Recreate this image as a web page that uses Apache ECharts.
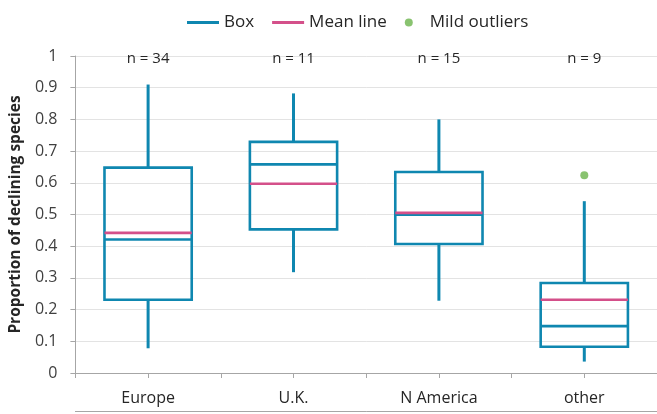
<!DOCTYPE html>
<html>
<head>
<meta charset="utf-8">
<script src="https://cdn.jsdelivr.net/npm/echarts@6/dist/echarts.min.js"></script>
<style>
  html, body { margin: 0; padding: 0; background: #ffffff; }
  #chart { width: 657px; height: 414px; }
</style>
</head>
<body>
<div id="chart"></div>
<script>
// ---- data ----
const categories = ['Europe', 'U.K.', 'N America', 'other'];
const whiskerMin = [0.078, 0.318, 0.228, 0.036];
const quartile1  = [0.231, 0.453, 0.407, 0.083];
const medians    = [0.421, 0.658, 0.499, 0.148];
const quartile3  = [0.648, 0.729, 0.634, 0.284];
const whiskerMax = [0.910, 0.882, 0.800, 0.542];
const means      = [0.442, 0.597, 0.505, 0.231];
const outlierCategories = ['other'];
const outlierValues     = [0.624];
const nCounts = [34, 11, 15, 9];
const yTickLabels = ['0', '0.1', '0.2', '0.3', '0.4', '0.5', '0.6', '0.7', '0.8', '0.9', '1'];

const BLUE = '#0f87b0';
const PINK = '#d4508a';
const GREEN = '#6cb44c';
const FONT = 'Open Sans';

const boxData = categories.map((c, i) => [i, whiskerMin[i], quartile1[i], medians[i], quartile3[i], whiskerMax[i]]);
const meanData = categories.map((c, i) => [i, means[i]]);
const outlierData = outlierCategories.map((c, i) => [categories.indexOf(c), outlierValues[i]]);
const nData = categories.map((c, i) => [i, 1]);

function renderBox(params, api) {
  const x = api.value(0);
  const pMin = api.coord([x, api.value(1)]);
  const pQ1 = api.coord([x, api.value(2)]);
  const pMed = api.coord([x, api.value(3)]);
  const pQ3 = api.coord([x, api.value(4)]);
  const pMax = api.coord([x, api.value(5)]);
  const half = api.size([1, 0])[0] * 0.3;
  const cx = pMed[0];
  const whisker = { stroke: BLUE, lineWidth: 3 };
  const edge = { stroke: BLUE, lineWidth: 2.6, fill: 'rgba(0,0,0,0)' };
  return {
    type: 'group',
    children: [
      { type: 'line', shape: { x1: cx, y1: pMax[1], x2: cx, y2: pQ3[1] }, style: whisker },
      { type: 'line', shape: { x1: cx, y1: pQ1[1], x2: cx, y2: pMin[1] }, style: whisker },
      { type: 'rect', shape: { x: cx - half, y: pQ3[1], width: half * 2, height: pQ1[1] - pQ3[1] }, style: edge },
      { type: 'line', shape: { x1: cx - half, y1: pMed[1], x2: cx + half, y2: pMed[1] }, style: { stroke: BLUE, lineWidth: 2.6 } }
    ]
  };
}

function renderMean(params, api) {
  const x = api.value(0);
  const p = api.coord([x, api.value(1)]);
  const half = api.size([1, 0])[0] * 0.3;
  return {
    type: 'line',
    shape: { x1: p[0] - half, y1: p[1], x2: p[0] + half, y2: p[1] },
    style: { stroke: PINK, lineWidth: 2.6 }
  };
}

function renderN(params, api) {
  const p = api.coord([api.value(0), api.value(1)]);
  return {
    type: 'text',
    x: p[0], y: p[1] + 3,
    style: {
      text: 'n = ' + nCounts[params.dataIndex],
      fontFamily: FONT, fontSize: 15, fill: '#262626',
      align: 'center', verticalAlign: 'middle'
    }
  };
}

const chart = echarts.init(document.getElementById('chart'), null, { renderer: 'canvas' });
chart.setOption({
  animation: false,
  backgroundColor: '#ffffff',
  textStyle: { fontFamily: FONT },
  legend: {
    left: 182,
    top: 9,
    itemWidth: 32,
    itemHeight: 8,
    itemGap: 18,
    textStyle: { fontFamily: FONT, fontSize: 17, color: '#262626' },
    data: [
      { name: 'Box', icon: 'path://M0 0H32V3H0Z', itemStyle: { color: BLUE } },
      { name: 'Mean line', icon: 'path://M0 0H32V3H0Z', itemStyle: { color: PINK } },
      { name: 'Mild outliers', icon: 'circle', itemStyle: { color: GREEN } }
    ]
  },
  grid: { left: 75, right: -5, top: 56, bottom: 41, containLabel: false },
  xAxis: [
    {
      type: 'category', data: categories, position: 'bottom',
      boundaryGap: true,
      axisLine: { show: true, lineStyle: { color: '#a6a6a6', width: 1 } },
      axisTick: { show: true, length: 5, lineStyle: { color: '#a6a6a6' } },
      axisLabel: { fontFamily: FONT, fontSize: 16, color: '#262626', margin: 17 },
      splitLine: { show: false }
    },
    {
      type: 'category', data: categories, position: 'bottom',
      boundaryGap: true,
      axisLine: { show: false },
      axisTick: { show: true, alignWithLabel: true, length: 5, lineStyle: { color: '#a6a6a6' } },
      axisLabel: { show: false },
      splitLine: { show: false }
    },
    {
      type: 'category', data: categories, position: 'bottom', offset: 38,
      axisLine: { show: true, lineStyle: { color: '#a6a6a6', width: 1 } },
      axisTick: { show: false },
      axisLabel: { show: false },
      splitLine: { show: false }
    }
  ],
  yAxis: {
    type: 'value', min: 0, max: 1, interval: 0.1,
    name: 'Proportion of declining species',
    nameLocation: 'middle',
    nameGap: 51,
    nameTextStyle: { fontFamily: FONT, fontSize: 15.5, fontWeight: 'bold', color: '#262626' },
    axisLine: { show: true, lineStyle: { color: '#a6a6a6', width: 1 } },
    axisTick: { show: true, length: 5, lineStyle: { color: '#a6a6a6' } },
    axisLabel: {
      fontFamily: FONT, fontSize: 16, color: '#404040', margin: 18,
      formatter: v => yTickLabels[Math.round(v * 10)]
    },
    splitLine: { show: true, lineStyle: { color: '#e3e3e3', width: 1 } }
  },
  series: [
    {
      name: 'Box', type: 'custom', xAxisIndex: 0,
      itemStyle: { color: BLUE },
      renderItem: renderBox,
      encode: { x: 0, y: [1, 2, 3, 4, 5] },
      data: boxData, z: 3
    },
    {
      name: 'Mean line', type: 'custom', xAxisIndex: 0,
      itemStyle: { color: PINK },
      renderItem: renderMean,
      encode: { x: 0, y: 1 },
      data: meanData, z: 4
    },
    {
      name: 'Mild outliers', type: 'scatter', xAxisIndex: 0,
      symbol: 'circle', symbolSize: 8,
      itemStyle: { color: GREEN },
      data: outlierData, z: 5
    },
    {
      name: 'n', type: 'custom', xAxisIndex: 0, silent: true,
      renderItem: renderN,
      encode: { x: 0, y: 1 },
      clip: false,
      data: nData, z: 6
    }
  ]
});
</script>
</body>
</html>
